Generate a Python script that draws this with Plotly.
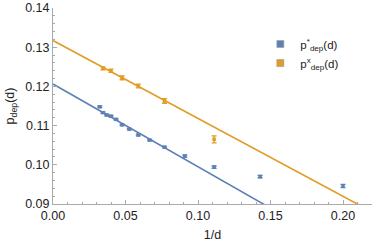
import plotly.graph_objects as go

# ---- data ----
d_star = [31, 29, 27, 25, 23, 21, 19, 17, 15, 13, 11, 9, 7, 5]
p_star = [0.1148, 0.1133, 0.1127, 0.1124, 0.1116, 0.1102, 0.1091,
          0.1076, 0.1063, 0.1045, 0.1022, 0.0994, 0.0970, 0.0946]
e_star = [0.0002, 0.0002, 0.0002, 0.0002, 0.0002, 0.0002, 0.0002,
          0.0002, 0.0002, 0.0002, 0.0003, 0.0003, 0.0003, 0.0004]

d_x = [29, 25, 21, 17, 13, 9]
p_x = [0.1246, 0.1240, 0.1222, 0.1201, 0.1163, 0.1065]
e_x = [0.0004, 0.0004, 0.0005, 0.0005, 0.0006, 0.0009]

# linear fits  p = a + b * (1/d)
fit_star = (0.1206, -0.2110)
fit_x = (0.1317, -0.1987)

x_range = [0.0, 0.22]
y_range = [0.09, 0.14]

BLUE = "#5E81B5"
ORANGE = "#E19C24"
FONT = "Liberation Sans, Arial, sans-serif"

inv_star = [1.0 / d for d in d_star]
inv_x = [1.0 / d for d in d_x]

fig = go.Figure()

for (a, b), col in [(fit_star, BLUE), (fit_x, ORANGE)]:
    fig.add_trace(go.Scatter(
        x=x_range, y=[a + b * x_range[0], a + b * x_range[1]],
        mode="lines", line=dict(color=col, width=1.6),
        showlegend=False, hoverinfo="skip"))

for xs, ys, es, col in [(inv_star, p_star, e_star, BLUE), (inv_x, p_x, e_x, ORANGE)]:
    fig.add_trace(go.Scatter(
        x=xs, y=ys, mode="markers",
        marker=dict(color=col, size=3.5, symbol="square"),
        error_y=dict(type="data", array=es, visible=True, color=col,
                     thickness=1.3, width=2.5),
        showlegend=False))

# legend entries
for name, col in [("p<sup>*</sup><sub>dep</sub>(d)", BLUE),
                  ("p<sup>x</sup><sub>dep</sub>(d)", ORANGE)]:
    fig.add_trace(go.Scatter(
        x=[None], y=[None], mode="markers", name=name,
        marker=dict(color=col, size=7, symbol="square",
                    line=dict(color="#999999", width=0.6))))

axis_common = dict(
    showline=True, linecolor="#aaaaaa", linewidth=1,
    ticks="inside", ticklen=4, tickcolor="#aaaaaa", tickwidth=1,
    showgrid=False, zeroline=False, mirror=False, automargin=False,
    tickfont=dict(family=FONT, size=12.5, color="#222222"),
    tickformat=".2f",
)

fig.update_layout(
    width=374, height=245,
    margin=dict(l=53, r=2, t=8, b=41),
    paper_bgcolor="white", plot_bgcolor="white",
    font=dict(family=FONT, color="#222222"),
    xaxis=dict(range=x_range, dtick=0.05, tick0=0,
               minor=dict(dtick=0.01, ticks="inside", ticklen=2,
                          tickcolor="#aaaaaa", showgrid=False),
               title=dict(text="1/d", font=dict(family=FONT, size=12.5), standoff=8),
               **axis_common),
    yaxis=dict(range=y_range, dtick=0.01, tick0=0.09,
               minor=dict(dtick=0.002, ticks="inside", ticklen=2,
                          tickcolor="#aaaaaa", showgrid=False),
               title=dict(text="p<sub>dep</sub>(d)", font=dict(family=FONT, size=12.5), standoff=7),
               **axis_common),
    legend=dict(x=0.65, y=0.89, xanchor="left", yanchor="top",
                bgcolor="rgba(0,0,0,0)", tracegroupgap=2,
                font=dict(family=FONT, size=11.5, color="#222222"),
                itemwidth=30),
)

fig.write_html("out.html", config={"displayModeBar": False},
               post_script="document.body.style.margin='0';document.body.style.overflow='hidden';")
